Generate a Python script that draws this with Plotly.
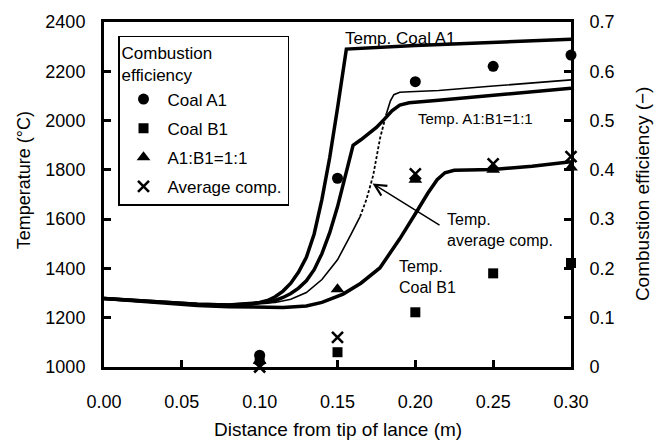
import plotly.graph_objects as go

# ---------------- data ----------------
# Combustion efficiency (right axis)
eff_x = [0.10, 0.15, 0.20, 0.25, 0.30]
eff_coal_a1 = [0.024, 0.383, 0.579, 0.610, 0.633]
eff_coal_b1 = [0.015, 0.030, 0.111, 0.190, 0.211]
eff_blend = [0.012, 0.158, 0.380, 0.400, 0.405]
eff_average = [0.000, 0.060, 0.392, 0.412, 0.427]

# Temperature curves (left axis)
temp_a1_x = [0.000, 0.020, 0.040, 0.060, 0.080, 0.095, 0.100, 0.105, 0.110, 0.115, 0.120,
             0.125, 0.130, 0.135, 0.140, 0.145, 0.150, 0.1557, 0.200, 0.250, 0.300]
temp_a1 = [1278, 1270, 1262, 1255, 1252, 1256, 1262, 1270, 1285, 1308, 1340,
           1385, 1445, 1540, 1680, 1850, 2050, 2290, 2305, 2318, 2330]

temp_blend_x = [0.000, 0.020, 0.040, 0.060, 0.080, 0.100, 0.105, 0.110, 0.115, 0.120, 0.125,
                0.130, 0.135, 0.140, 0.145, 0.150, 0.155, 0.160, 0.165, 0.170, 0.175,
                0.180, 0.185, 0.190, 0.196, 0.215, 0.250, 0.300]
temp_blend = [1278, 1270, 1262, 1255, 1252, 1260, 1263, 1270, 1282, 1298, 1320,
              1350, 1395, 1460, 1545, 1650, 1770, 1900, 1922, 1945, 1972,
              2005, 2040, 2063, 2072, 2082, 2102, 2131]

temp_avg_low_x = [0.000, 0.020, 0.040, 0.060, 0.080, 0.100, 0.110, 0.120, 0.130, 0.140,
                  0.150, 0.158, 0.1645]
temp_avg_low = [1278, 1270, 1262, 1255, 1252, 1258, 1262, 1275, 1302, 1355,
                1435, 1530, 1610]
temp_avg_dot_x = [0.1645, 0.1686, 0.1729, 0.1774, 0.1815]
temp_avg_dot = [1610, 1680, 1777, 1930, 2030]
temp_avg_up_x = [0.1815, 0.1840, 0.1862, 0.1900, 0.1965, 0.215, 0.250, 0.300]
temp_avg_up = [2030, 2080, 2105, 2115, 2117, 2122, 2140, 2165]

temp_b1_x = [0.000, 0.020, 0.040, 0.060, 0.080, 0.100, 0.115, 0.130, 0.140, 0.1536,
             0.165, 0.1772, 0.190, 0.2008, 0.208, 0.214, 0.219, 0.225, 0.250, 0.275, 0.300]
temp_b1 = [1278, 1268, 1258, 1250, 1245, 1242, 1241, 1248, 1262, 1296,
           1340, 1402, 1520, 1630, 1705, 1760, 1788, 1798, 1801, 1815, 1833]

x_ticks = [0.00, 0.05, 0.10, 0.15, 0.20, 0.25, 0.30]
x_tick_labels = ["0.00", "0.05", "0.10", "0.15", "0.20", "0.25", "0.30"]
temp_ticks = [1000, 1200, 1400, 1600, 1800, 2000, 2200, 2400]
eff_ticks = [0, 0.1, 0.2, 0.3, 0.4, 0.5, 0.6, 0.7]
eff_tick_labels = ["0", "0.1", "0.2", "0.3", "0.4", "0.5", "0.6", "0.7"]

FONT = "Liberation Sans, Arial, sans-serif"
BLACK = "black"

fig = go.Figure()

def temp_line(x, y, width, dash="solid"):
    fig.add_trace(go.Scatter(x=x, y=y, mode="lines", yaxis="y",
                             line=dict(color=BLACK, width=width, dash=dash),
                             showlegend=False, hoverinfo="skip"))

temp_line(temp_a1_x, temp_a1, 3.5)
temp_line(temp_blend_x, temp_blend, 3.5)
temp_line(temp_avg_low_x, temp_avg_low, 1.6)
temp_line(temp_avg_dot_x, temp_avg_dot, 1.8, "3px,2px")
temp_line(temp_avg_up_x, temp_avg_up, 1.6)
temp_line(temp_b1_x, temp_b1, 3.5)

def eff_markers(name, y, symbol, size, group, line_width=0):
    fig.add_trace(go.Scatter(
        x=eff_x, y=y, mode="markers", name=name, yaxis="y2",
        legendgroup=group, cliponaxis=False,
        marker=dict(symbol=symbol, size=size, color=BLACK,
                    line=dict(color=BLACK, width=line_width))))

eff_markers("Coal A1", eff_coal_a1, "circle", 11, "a")
eff_markers("Coal B1", eff_coal_b1, "square", 10, "b")
eff_markers("A1:B1=1:1", eff_blend, "triangle-up", 12, "c")
eff_markers("Average comp.", eff_average, "x-thin", 11, "d", line_width=2.6)

axis_common = dict(showgrid=False, zeroline=False, showline=True, linecolor=BLACK,
                   linewidth=3, ticks="inside", ticklen=7, tickwidth=3, tickcolor=BLACK,
                   tickfont=dict(family=FONT, size=18, color=BLACK))

fig.update_layout(
    width=663, height=444,
    margin=dict(l=104, r=92, t=18, b=77),
    paper_bgcolor="white", plot_bgcolor="white",
    font=dict(family=FONT, size=17, color=BLACK),
    xaxis=dict(range=[0, 0.30], tickvals=x_ticks, ticktext=x_tick_labels,
               mirror=True, ticklabelstandoff=16, **axis_common),
    yaxis=dict(range=[1000, 2400], tickvals=temp_ticks, ticklabelstandoff=12,
               **axis_common),
    yaxis2=dict(range=[0, 0.7], tickvals=eff_ticks, ticktext=eff_tick_labels,
                overlaying="y", side="right", ticklabelstandoff=12, **axis_common),
    legend=dict(x=0.03, y=0.96, xanchor="left", yanchor="top",
                bgcolor="white", bordercolor=BLACK, borderwidth=1.5,
                font=dict(family=FONT, size=17, color=BLACK),
                title=dict(text="Combustion<br>efficiency",
                           font=dict(family=FONT, size=17, color=BLACK)),
                traceorder="grouped", tracegroupgap=4, itemwidth=38),
)

def label(text, x, y, size, xanchor="left"):
    fig.add_annotation(x=x, y=y, xref="x", yref="y", text=text, showarrow=False,
                       xanchor=xanchor, yanchor="middle", align="left",
                       font=dict(family=FONT, size=size, color=BLACK))

label("Temp. Coal A1", 0.1534, 2335, 17)
label("Temp. A1:B1=1:1", 0.2005, 2010, 15)
label("Temp.<br>average comp.", 0.219, 1557, 16)
label("Temp.<br>Coal B1", 0.188, 1367, 16)

fig.add_annotation(x=0.1725, y=1745, xref="x", yref="y", ax=0.2165, ay=1572,
                   axref="x", ayref="y", text="", showarrow=True,
                   arrowhead=5, arrowsize=1.5, arrowwidth=1.5, arrowcolor=BLACK)

fig.add_annotation(x=-0.171, y=0.5415, xref="paper", yref="paper",
                   text="Temperature (°C)", textangle=-90, showarrow=False,
                   xanchor="center", yanchor="middle",
                   font=dict(family=FONT, size=18, color=BLACK))
fig.add_annotation(x=1.152, y=0.504, xref="paper", yref="paper",
                   text="Combustion efficiency (−)", textangle=-90, showarrow=False,
                   xanchor="center", yanchor="middle",
                   font=dict(family=FONT, size=19, color=BLACK))
fig.add_annotation(x=0.5, y=-0.1805, xref="paper", yref="paper",
                   text="Distance from tip of lance (m)", showarrow=False,
                   xanchor="center", yanchor="middle",
                   font=dict(family=FONT, size=19, color=BLACK))

fig.write_html("out.html", config={"displayModeBar": False},
               post_script="document.body.style.margin='0px';")
